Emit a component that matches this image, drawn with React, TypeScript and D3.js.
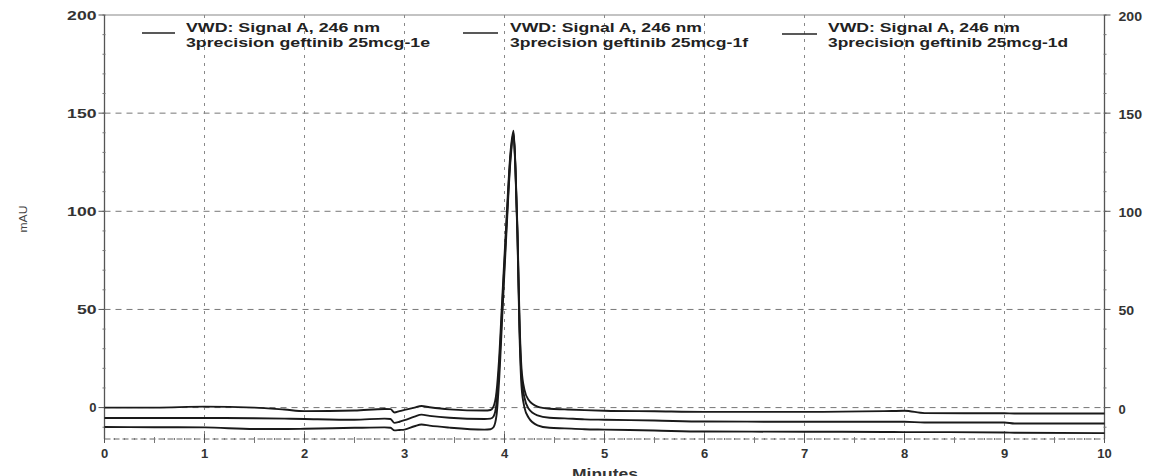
import React from "react";
import * as d3 from "d3";

const minutes = [0, 0.5, 1.0, 1.5, 1.8, 2.0, 2.5, 2.8, 2.86, 2.9, 2.95, 3.0, 3.1, 3.17, 3.25, 3.45, 3.8, 3.86, 3.89, 3.92, 3.945, 3.98, 4.02, 4.06, 4.09, 4.11, 4.13, 4.15, 4.17, 4.2, 4.24, 4.33, 4.45, 4.6, 4.8, 5.0, 5.5, 6.0, 7.0, 7.8, 8.0, 8.2, 9.0, 9.1, 10.0];

const trace1e = [0, 0, 0.5, 0, -1, -1.8, -1.5, -0.7, -0.8, -2.5, -1.8, -1.2, 0, 0.8, 0.2, -0.9, -1.5, -1.2, 0.5, 8, 24, 58, 96, 130, 141, 122, 90, 45, 20, 9, 4, 0.5, -0.6, -0.9, -1.3, -1.6, -1.9, -2.2, -2.2, -1.8, -1.6, -2.8, -2.9, -3.0, -3.0];
const trace1f = [-5.3, -5.3, -5.3, -5.4, -5.6, -5.8, -6.2, -5.6, -5.8, -7.8, -7.2, -6.4, -4.6, -3.6, -4.2, -5.2, -5.8, -5.6, -4.5, 2, 19, 54, 93, 128, 140, 121, 88, 42, 16, 5, -0.5, -4, -5.2, -5.5, -6, -6.2, -6.6, -7.1, -7.2, -7.2, -7.2, -7.6, -7.6, -8.1, -8.1];
const trace1d = [-9.9, -10, -10.1, -10.9, -10.9, -10.8, -10.3, -10.1, -10.3, -11.6, -11.4, -11.2, -9.5, -8.6, -9.2, -10.2, -11.2, -11, -10, -4, 13, 49, 90, 126, 139, 120, 86, 38, 11, 0, -5, -9, -10.3, -10.6, -11, -11.2, -11.7, -12.2, -12.3, -12.4, -12.5, -12.5, -12.7, -12.8, -13];

const signalName = "VWD: Signal A, 246 nm";
const sampleNames = ["3precision geftinib 25mcg-1e", "3precision geftinib 25mcg-1f", "3precision geftinib 25mcg-1d"];
const xTicks = [0, 1, 2, 3, 4, 5, 6, 7, 8, 9, 10];
const yTicks = [0, 50, 100, 150, 200];
const yGrid = [0, 50, 100, 150];
const xGrid = [1, 2, 3, 4, 5, 6, 7, 8, 9];

const W = 1153;
const H = 476;
const FONT = "'Liberation Sans', Arial, sans-serif";

export default function App() {
  const x = d3.scaleLinear().domain([0, 10]).range([104.5, 1104.5]);
  const y = d3.scaleLinear().domain([-16, 200]).range([439, 15]);
  const series = [trace1e, trace1f, trace1d];
  const line = d3
    .line<number>()
    .x((_, i) => x(minutes[i]))
    .y((d) => y(d))
    .curve(d3.curveMonotoneX);

  const yMinor = d3.range(-10, 201, 10);
  const xMinor = d3.range(0, 10.001, 0.1).map((v) => Math.round(v * 10) / 10);

  const legendPos = [
    { lx1: 142, lx2: 175, ly: 33, tx: 186, w1: 194, w2: 244 },
    { lx1: 463, lx2: 498, ly: 33, tx: 510, w1: 192, w2: 238 },
    { lx1: 782, lx2: 817, ly: 34, tx: 828, w1: 192, w2: 240 },
  ];

  const labelLen = (s: string) => (s.length > 1 ? s.length * 9.8 : undefined);
  const isHalf = (v: number) => Math.abs(v * 2 - Math.round(v * 2)) < 1e-6;

  return (
    <svg
      width={W}
      height={H}
      style={{ position: "absolute", left: 0, top: 0, background: "#fff" }}
      fontFamily={FONT}
    >
      <rect x={0} y={0} width={W} height={H} fill="#fff" />
      {/* grid */}
      {yGrid.map((v) => (
        <line key={"hg" + v} x1={x(0)} x2={x(10)} y1={y(v)} y2={y(v)} stroke="#777" strokeWidth={1} strokeDasharray="6,5" />
      ))}
      {xGrid.map((v) => (
        <line key={"vg" + v} x1={x(v)} x2={x(v)} y1={y(200)} y2={y(-16)} stroke="#888" strokeWidth={1} strokeDasharray="3,5" />
      ))}
      {/* frame */}
      <line x1={x(0)} x2={x(10)} y1={y(200)} y2={y(200)} stroke="#888" strokeWidth={1.2} />
      <line x1={x(0)} x2={x(0)} y1={y(200)} y2={y(-16)} stroke="#555" strokeWidth={1.3} />
      <line x1={x(10)} x2={x(10)} y1={y(200)} y2={y(-16)} stroke="#555" strokeWidth={1.3} />
      <line x1={x(0)} x2={x(10)} y1={y(-16)} y2={y(-16)} stroke="#666" strokeWidth={1.2} strokeDasharray="6,3" />
      {/* y minor ticks */}
      {yMinor.map((v) => (
        <g key={"ym" + v}>
          <line x1={x(0) - 2} x2={x(0) + 1} y1={y(v)} y2={y(v)} stroke="#777" />
          <line x1={x(10) - 1} x2={x(10) + 2} y1={y(v)} y2={y(v)} stroke="#777" />
        </g>
      ))}
      {/* x minor ticks */}
      {xMinor.map((v) => (
        <line
          key={"xm" + v}
          x1={x(v)}
          x2={x(v)}
          y1={y(-16) - (isHalf(v) ? 2 : 1)}
          y2={y(-16) + (isHalf(v) ? 4 : 1)}
          stroke="#777"
        />
      ))}
      {/* y ticks + labels */}
      {yTicks.map((v) => (
        <g key={"yt" + v}>
          <line x1={x(0) - 6} x2={x(0)} y1={y(v)} y2={y(v)} stroke="#555" />
          <line x1={x(10)} x2={x(10) + 6} y1={y(v)} y2={y(v)} stroke="#555" />
          <text
            x={x(0) - 8}
            y={y(v) + 4.5}
            textAnchor="end"
            fontSize={13}
            fontWeight="bold"
            fill="#333"
            textLength={labelLen(String(v))}
            lengthAdjust="spacingAndGlyphs"
          >
            {v}
          </text>
          <text
            x={x(10) + 14}
            y={y(v) + 6}
            textAnchor="start"
            fontSize={13}
            fontWeight="bold"
            fill="#333"
            textLength={labelLen(String(v)) ? labelLen(String(v))! * 0.8 : undefined}
            lengthAdjust="spacingAndGlyphs"
          >
            {v}
          </text>
        </g>
      ))}
      {/* x ticks + labels */}
      {xTicks.map((v) => (
        <g key={"xt" + v}>
          <line x1={x(v)} x2={x(v)} y1={y(-16) - 5} y2={y(-16) + 4} stroke="#555" />
          <text x={x(v)} y={458} textAnchor="middle" fontSize={13} fontWeight="bold" fill="#333">
            {v}
          </text>
        </g>
      ))}
      {/* axis titles */}
      <text
        transform="translate(27,219) rotate(-90)"
        textAnchor="middle"
        fontSize={11}
        fill="#444"
        textLength={27}
        lengthAdjust="spacingAndGlyphs"
      >
        mAU
      </text>
      <text x={605} y={479} textAnchor="middle" fontSize={14} fontWeight="bold" fill="#333" textLength={66} lengthAdjust="spacingAndGlyphs">
        Minutes
      </text>
      {/* traces */}
      {series.map((s, i) => (
        <path key={"tr" + i} d={line(s) || ""} fill="none" stroke="#1a1a1a" strokeWidth={1.9} strokeLinejoin="round" />
      ))}
      {/* legend */}
      {sampleNames.map((name, i) => {
        const p = legendPos[i];
        return (
          <g key={"lg" + i}>
            <line x1={p.lx1} x2={p.lx2} y1={p.ly} y2={p.ly} stroke="#222" strokeWidth={1.6} />
            <text x={p.tx} y={31.5} fontSize={13.5} fontWeight="bold" fill="#222" textLength={p.w1} lengthAdjust="spacingAndGlyphs">
              {signalName}
            </text>
            <text x={p.tx} y={46.5} fontSize={13.5} fontWeight="bold" fill="#222" textLength={p.w2} lengthAdjust="spacingAndGlyphs">
              {name}
            </text>
          </g>
        );
      })}
    </svg>
  );
}
